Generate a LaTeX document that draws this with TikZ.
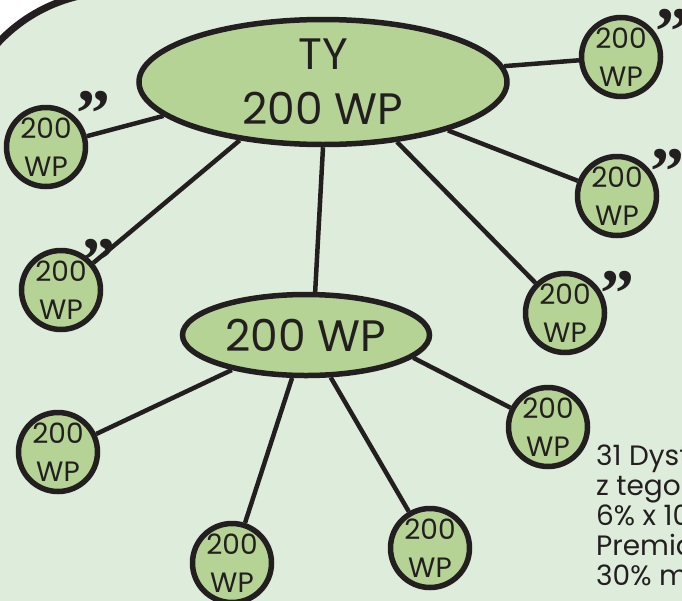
\documentclass[tikz,border=0pt]{standalone}
\usepackage{fontspec}
\setmainfont{Poppins}
\newfontfamily\quotefont{Liberation Serif}
\usetikzlibrary{shapes.geometric}
\pgfdeclarelayer{bg}
\pgfsetlayers{bg,main}
\definecolor{bgc}{RGB}{222,236,219}
\definecolor{nodec}{RGB}{181,211,148}
\definecolor{ink}{RGB}{35,31,32}
\tikzset{
 ell/.style={ellipse, draw=ink, fill=nodec, line width=5.5pt, inner sep=0pt},
 circ/.style={circle, draw=ink, fill=nodec, line width=5.5pt, minimum size=79pt, inner sep=0pt},
 ctext/.style={align=center, text=ink, font=\fontsize{28}{38}\selectfont, inner sep=0pt},
 etext/.style={align=center, text=ink, font=\fontsize{44}{55}\selectfont, inner sep=0pt},
 link/.style={draw=ink, line width=4.5pt},
 quote/.style={anchor=north, inner sep=0pt, text=ink, font=\quotefont\bfseries\fontsize{68}{68}\selectfont},
}
\begin{document}
\begin{tikzpicture}[x=1pt,y=-1pt]
\useasboundingbox (0,0) rectangle (682,600);
\begin{pgfonlayer}{bg}
\fill[white] (0,0) rectangle (682,600);
\filldraw[fill=bgc, draw=ink, line width=7pt] (-45,900) -- (-45,152) arc[start angle=180,end angle=270,radius=160] -- (900,-8) -- (900,900) -- cycle;
\end{pgfonlayer}

\node[ell, minimum width=368pt, minimum height=125pt] (E1) at (323,82) {};
\node[etext] (E1t) at (E1) {TY\\200 WP};
\node[ell, minimum width=247pt, minimum height=81pt] (E2) at (306,335) {};
\node[etext] (E2t) at (E2) {200 WP};

\foreach \n/\x/\y in {C1/621/57, C2/46/147, C3/617/196, C4/61/290, C5/565/313, C6/548/427, C7/58/452, C8/232/563, C9/430/548}{
  \node[circ] (\n) at (\x,\y) {};
  \node[ctext] (\n t) at (\n) {200\\WP};
}

\node[quote] (Q1) at (672,9) {”};
\node[quote] (Q2) at (93,91) {”};
\node[quote] (Q3) at (667,149) {”};
\node[quote] (Q4) at (98,239) {”};
\node[quote] (Q5) at (617,271) {”};

\node[anchor=north west, align=left, font=\fontsize{28}{30}\selectfont, inner sep=0pt, text=ink] (T) at (596,445) {31 Dystr\\z tego od\\6\% x 10\\Premia d\\30\% ma};

\begin{pgfonlayer}{bg}
\path[link] (E1.5) -- (C1);
\path[link] (E1.192) -- (C2);
\path[link] (E1) -- (C3);
\path[link] (E1.-145) -- (C4);
\path[link] (E1.-39) -- (C5);
\path[link] (E1.south) -- (E2.78);
\path[link] (E2.-12) -- (C6);
\path[link] (E2) -- (C7);
\path[link] (E2) -- (C8);
\path[link] (E2) -- (C9);
\end{pgfonlayer}
\end{tikzpicture}
\end{document}
